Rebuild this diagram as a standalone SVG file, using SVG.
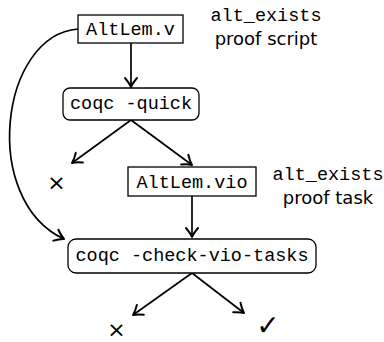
<svg xmlns="http://www.w3.org/2000/svg" width="384" height="342" viewBox="0 0 384 342">
  <style>
    .box { fill: #fff; stroke: #000; stroke-width: 1.3; }
    .mono { font-family: "Liberation Mono", "DejaVu Sans Mono", monospace; font-size: 18.5px; fill: #000; }
    .sans { font-family: "DejaVu Sans", "Liberation Sans", sans-serif; font-size: 18px; fill: #000; }
    .sym { font-family: "DejaVu Sans", sans-serif; fill: #000; }
    .edge { fill: none; stroke: #000; stroke-width: 1.7; marker-end: url(#head); }
  </style>
  <defs>
    <marker id="head" markerUnits="userSpaceOnUse" markerWidth="16" markerHeight="16" viewBox="-10 -8 12 16" refX="0" refY="0" orient="auto">
      <path d="M-9,-6 C-5,-2.5 -2,-0.8 0,0 C-2,0.8 -5,2.5 -9,6" fill="none" stroke="#000" stroke-width="2" stroke-linecap="round" stroke-linejoin="round"/>
    </marker>
  </defs>

  <!-- connectors -->
  <g id="edges">
    <path class="edge" d="M131,43 L131,87"/>
    <path class="edge" d="M131,120 L72,163"/>
    <path class="edge" d="M131,120 L192,165"/>
    <path class="edge" d="M192,196 L192,237"/>
    <path class="edge" d="M78,29 C0,35 -20,200 64,239"/>
    <path class="edge" d="M192,273 L133,315"/>
    <path class="edge" d="M192,273 L244,313"/>
  </g>

  <g id="src">
    <rect class="box" x="78" y="15" width="105" height="28"/>
    <text class="mono" x="130.5" y="35" text-anchor="middle">AltLem.v</text>
  </g>

  <g id="label-script">
    <text class="mono" x="266" y="21" text-anchor="middle">alt_exists</text>
    <text class="sans" x="266" y="45" text-anchor="middle">proof script</text>
  </g>

  <g id="quick">
    <rect class="box" x="63" y="88" width="136" height="32" rx="7"/>
    <text class="mono" x="131" y="109" text-anchor="middle">coqc -quick</text>
  </g>

  <g id="fail-quick">
    <text class="sym" x="56.5" y="189.5" font-size="22" text-anchor="middle">×</text>
  </g>

  <g id="vio">
    <rect class="box" x="128" y="167" width="128" height="29"/>
    <text class="mono" x="192" y="188" text-anchor="middle">AltLem.vio</text>
  </g>

  <g id="label-task">
    <text class="mono" x="328" y="180" text-anchor="middle">alt_exists</text>
    <text class="sans" x="328" y="204" text-anchor="middle">proof task</text>
  </g>

  <g id="check">
    <rect class="box" x="68" y="239" width="248" height="34" rx="8"/>
    <text class="mono" x="192" y="261" text-anchor="middle">coqc -check-vio-tasks</text>
  </g>

  <g id="fail-check">
    <text class="sym" x="116.5" y="336.5" font-size="22" text-anchor="middle">×</text>
  </g>

  <g id="pass-check">
    <text class="sym" x="268" y="335" font-size="28" text-anchor="middle">✓</text>
  </g>
</svg>
